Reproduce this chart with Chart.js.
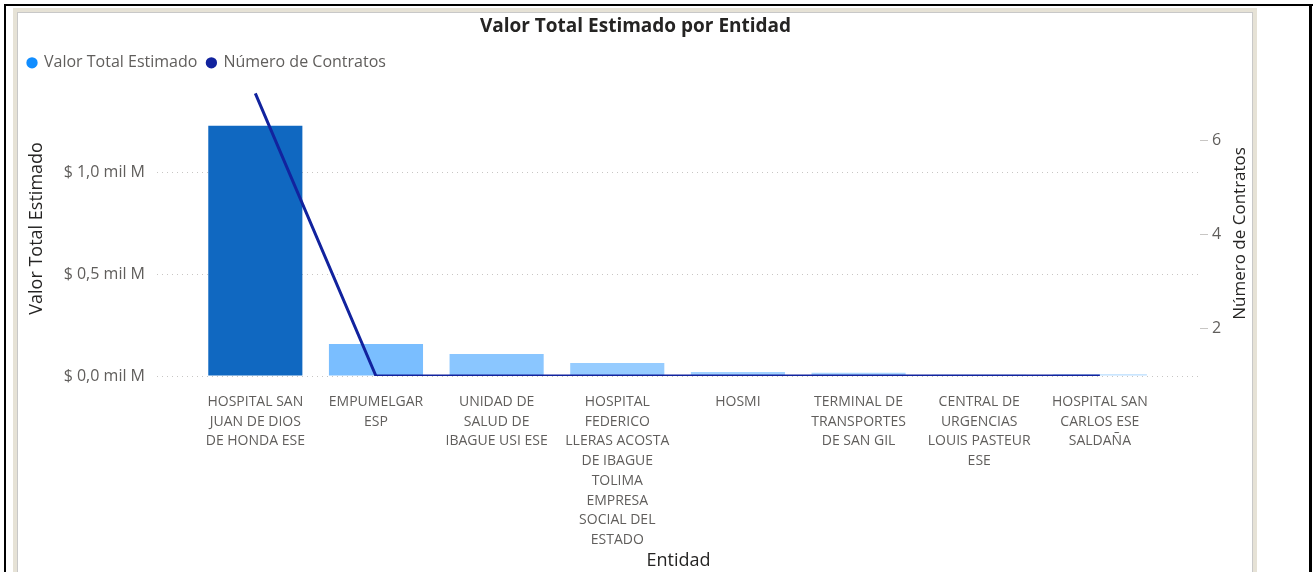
<!doctype html>
<html lang="es">

<head>
  <meta charset="utf-8">
  <title>Valor Total Estimado por Entidad</title>
  <style>
    body { margin: 0; background: #fff; width: 1313px; height: 572px; overflow: hidden; position: relative; }
    .linea { position: absolute; background: #000; }
    #marco { position: absolute; left: 13px; top: 8px; width: 1236px; height: 700px; border: 4px solid #E6E2D6; }
    #marco div { width: 100%; height: 100%; border: 1px solid #C8C8C8; box-sizing: border-box; }
    #migrafico { position: absolute; left: 0; top: 0; }
  </style>
</head>

<body>
  <div class="linea" style="left:4px;top:4px;width:1309px;height:2px"></div>
  <div class="linea" style="left:4px;top:4px;width:2px;height:568px"></div>
  <div class="linea" style="left:1309px;top:4px;width:3px;height:568px"></div>
  <div id="marco"><div></div></div>
  <canvas id="migrafico" width="1313" height="572"></canvas>

  <script src="https://cdn.jsdelivr.net/npm/chart.js"></script>

  <script>
    // datos
    const entidades = [
      ['HOSPITAL SAN', 'JUAN DE DIOS', 'DE HONDA ESE'],
      ['EMPUMELGAR', 'ESP'],
      ['UNIDAD DE', 'SALUD DE', 'IBAGUE USI ESE'],
      ['HOSPITAL', 'FEDERICO', 'LLERAS ACOSTA', 'DE IBAGUE', 'TOLIMA', 'EMPRESA', 'SOCIAL DEL', 'ESTADO'],
      ['HOSMI'],
      ['TERMINAL DE', 'TRANSPORTES', 'DE SAN GIL'],
      ['CENTRAL DE', 'URGENCIAS', 'LOUIS PASTEUR', 'ESE'],
      ['HOSPITAL SAN', 'CARLOS ESE', 'SALDAÑA']
    ];
    const valorTotal = [1230000000, 157000000, 108000000, 64000000, 20000000, 16000000, 6000000, 9000000];
    const numContratos = [7, 1, 1, 1, 1, 1, 1, 1];
    const ticksValor = [0, 500000000, 1000000000];
    const ticksContratos = [2, 4, 6];

    const coloresBarras = ['#1068C1', '#7ABEFF', '#8AC6FF', '#96CCFF', '#A2D2FF', '#ABD7FF', '#B3DBFF', '#B9DEFF'];
    const coloresLeyenda = ['#118DFF', '#12239E'];
    const fuente = "'Segoe UI', 'Open Sans', sans-serif";
    const tituloDerecha = 'Número de Contratos';

    // el titulo del eje derecho se lee de abajo hacia arriba
    const tituloEjeDerecho = {
      id: 'tituloEjeDerecho',
      afterDraw(chart) {
        const ctx = chart.ctx;
        const area = chart.chartArea;
        ctx.save();
        ctx.translate(1240, (area.top + area.bottom) / 2 + 5);
        ctx.rotate(-Math.PI / 2);
        ctx.fillStyle = '#252423';
        ctx.font = "17px " + fuente;
        ctx.textAlign = 'center';
        ctx.textBaseline = 'middle';
        ctx.fillText(tituloDerecha, 0, 0);
        ctx.restore();
      }
    };

    const lienzo = document.getElementById('migrafico');
    const grafico = new Chart(lienzo, {
      type: 'bar',
      data: {
        datasets: [{
          type: 'line',
          label: 'Número de Contratos',
          data: numContratos.map((v, i) => ({ x: i, y: v })),
          borderColor: '#12239E',
          backgroundColor: '#12239E',
          borderWidth: 3,
          pointRadius: 0,
          yAxisID: 'yD',
          order: 0
        }, {
          label: 'Valor Total Estimado',
          data: valorTotal.map((v, i) => ({ x: i, y: v })),
          backgroundColor: coloresBarras,
          barPercentage: 0.78,
          categoryPercentage: 1,
          yAxisID: 'y',
          order: 1
        }]
      },
      options: {
        responsive: false,
        animation: false,
        layout: { padding: { left: 18, right: 60, top: 12, bottom: 0 } },
        scales: {
          x: {
            type: 'linear',
            offset: false,
            min: -0.815,
            max: 7.83,
            afterBuildTicks: s => { s.ticks = entidades.map((e, i) => ({ value: i })); },
            afterFit: s => { s.height = 196; },
            grid: { display: false, offset: false },
            border: { display: false },
            ticks: {
              autoSkip: false,
              maxRotation: 0,
              padding: 8,
              color: '#605E5C',
              font: { family: fuente, size: 14, lineHeight: 1.41 },
              callback: v => entidades[Math.round(v)]
            },
            title: {
              display: true,
              text: 'Entidad',
              color: '#252423',
              font: { family: fuente, size: 18 },
              padding: 0
            }
          },
          y: {
            position: 'left',
            min: 0,
            max: 1451000000,
            afterBuildTicks: s => { s.ticks = ticksValor.map(v => ({ value: v })); },
            afterFit: s => { s.width = 139; },
            grid: { color: '#C8C6C4', drawTicks: false },
            border: { display: false, dash: [1, 4] },
            ticks: {
              padding: 12,
              color: '#605E5C',
              font: { family: fuente, size: 16 },
              callback: v => '$ ' + (v / 1e9).toFixed(1).replace('.', ',') + ' mil M'
            },
            title: {
              display: true,
              text: 'Valor Total Estimado',
              color: '#252423',
              font: { family: fuente, size: 18 },
              padding: { top: 8, bottom: 0 }
            }
          },
          yD: {
            position: 'right',
            min: 1,
            max: 7.265,
            afterBuildTicks: s => { s.ticks = ticksContratos.map(v => ({ value: v })); },
            afterFit: s => { s.width = 53; },
            grid: { drawOnChartArea: false, color: '#C8C6C4', tickLength: 8 },
            border: { display: false, dash: [1, 3] },
            ticks: {
              padding: 4,
              color: '#605E5C',
              font: { family: fuente, size: 16 }
            }
          }
        },
        plugins: {
          title: {
            display: true,
            text: 'Valor Total Estimado por Entidad',
            color: '#252423',
            font: { family: fuente, size: 19, weight: 'bold' },
            padding: { top: 3, bottom: 7 }
          },
          legend: {
            position: 'top',
            align: 'start',
            labels: {
              usePointStyle: true,
              pointStyle: 'circle',
              boxWidth: 8,
              boxHeight: 8,
              padding: 10,
              color: '#605E5C',
              font: { family: fuente, size: 16 },
              generateLabels(chart) {
                const items = Chart.defaults.plugins.legend.labels.generateLabels(chart);
                items.reverse();
                items.forEach((it, i) => {
                  it.fillStyle = coloresLeyenda[i];
                  it.strokeStyle = coloresLeyenda[i];
                  it.lineWidth = 0;
                  it.pointStyle = 'circle';
                });
                return items;
              }
            }
          },
          tooltip: { enabled: false }
        }
      },
      plugins: [tituloEjeDerecho]
    });
  </script>
</body>

</html>
